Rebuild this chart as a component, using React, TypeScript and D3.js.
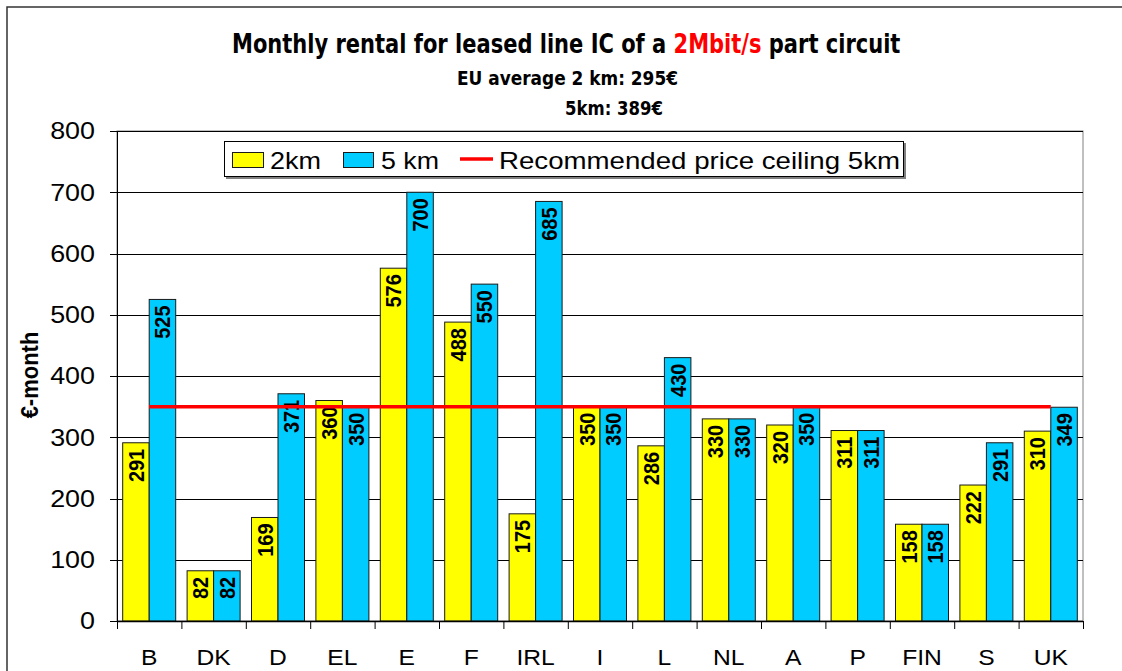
import React, { useLayoutEffect, useRef, useState } from 'react';
import * as d3 from 'd3';

const categories = ['B', 'DK', 'D', 'EL', 'E', 'F', 'IRL', 'I', 'L', 'NL', 'A', 'P', 'FIN', 'S', 'UK'];
const values2km = [291, 82, 169, 360, 576, 488, 175, 350, 286, 330, 320, 311, 158, 222, 310];
const values5km = [525, 82, 371, 350, 700, 550, 685, 350, 430, 330, 350, 311, 158, 291, 349];
const ceiling5km = [350, 350, 350, 350, 350, 350, 350, 350, 350, 350, 350, 350, 350, 350, 350];
const yTicks = [0, 100, 200, 300, 400, 500, 600, 700, 800];
const seriesNames = ['2km', '5 km', 'Recommended price ceiling 5km'];
const seriesKeys = ['s2', 's5'];

const W = 1122;
const H = 671;
const M = { left: 117, right: 1083, top: 131, bottom: 621 };
const SANS = '"Liberation Sans", Arial, sans-serif';
const NARROW = '"Liberation Sans Narrow", "Arial Narrow", "DejaVu Sans Condensed", "Liberation Sans", sans-serif';
const SX = 1.12;

export default function App() {
  const titleRef = useRef<SVGTextElement>(null);
  const [titleScale, setTitleScale] = useState(1);
  useLayoutEffect(() => {
    if (titleRef.current) {
      const w = titleRef.current.getBBox().width;
      if (w > 0) setTitleScale(669 / w);
    }
  }, []);

  const x = d3.scaleBand<string>().domain(categories).range([M.left, M.right]).paddingInner(0).paddingOuter(0);
  const xi = d3.scaleBand<string>().domain(seriesKeys).range([0, x.bandwidth()]).paddingInner(0).paddingOuter(0.215);
  const y = d3.scaleLinear().domain([0, 800]).range([M.bottom, M.top]);
  const colors: Record<string, string> = { s2: '#FFFF00', s5: '#00CCFF' };
  const data = categories.map((c, i) => ({ c, s2: values2km[i], s5: values5km[i] }));
  const line = d3
    .line<number>()
    .x((_, i) => (x(categories[i]) as number) + x.bandwidth() / 2)
    .y((v) => y(v));
  const boundaries = categories.map((c) => x(c) as number).concat([M.right]);

  return (
    <svg width={W} height={H} style={{ position: 'absolute', left: 0, top: 0, display: 'block' }} fontFamily={SANS}>
      <rect x={0} y={0} width={W} height={H} fill="#fff" />
      <rect x={7} y={7} width={W + 20} height={H + 20} fill="none" stroke="#333" strokeWidth={1.5} />

      {/* Title */}
      <g transform={`translate(232,53) scale(${titleScale},1)`}>
        <text ref={titleRef} x={0} y={0} fontFamily={NARROW} fontWeight="bold" fontSize={27}>
          Monthly rental for leased line IC of a <tspan fill="#FF0000">2Mbit/s</tspan> part circuit
        </text>
      </g>
      <text x={457} y={85} fontFamily={NARROW} fontWeight="bold" fontSize={19} textLength={221} lengthAdjust="spacingAndGlyphs">
        EU average 2 km: 295€
      </text>
      <text x={565} y={115} fontFamily={NARROW} fontWeight="bold" fontSize={19} textLength={98} lengthAdjust="spacingAndGlyphs">
        5km: 389€
      </text>

      {/* plot area border */}
      <rect x={M.left} y={M.top} width={M.right - M.left} height={M.bottom - M.top} fill="none" stroke="#808080" strokeWidth={1} />

      {/* gridlines */}
      {yTicks.map((t) => (
        <line key={'g' + t} x1={M.left - 7} x2={M.right} y1={Math.round(y(t)) + 0.5} y2={Math.round(y(t)) + 0.5} stroke="#000" strokeWidth={1} />
      ))}
      {yTicks.map((t) => (
        <g key={'yt' + t} transform={`translate(95,${y(t)}) scale(${SX},1)`}>
          <text x={0} y={0} textAnchor="end" dominantBaseline="central" fontSize={24} fill="#000">
            {t}
          </text>
        </g>
      ))}

      {/* bars */}
      {data.map((d) =>
        seriesKeys.map((k) => {
          const v = (d as any)[k] as number;
          const bx = (x(d.c) as number) + (xi(k) as number);
          return (
            <rect key={d.c + k} x={bx} y={y(v)} width={xi.bandwidth()} height={M.bottom - y(v)} fill={colors[k]} stroke="#1a1a1a" strokeWidth={1} />
          );
        })
      )}
      {data.map((d) =>
        seriesKeys.map((k) => {
          const v = (d as any)[k] as number;
          const cx = (x(d.c) as number) + (xi(k) as number) + xi.bandwidth() / 2;
          return (
            <g key={'l' + d.c + k} transform={`translate(${cx},${y(v) + 6}) scale(${SX},1) rotate(-90)`}>
              <text x={0} y={0} textAnchor="end" dominantBaseline="central" fontSize={20} fontWeight="bold" fill="#000">
                {v}
              </text>
            </g>
          );
        })
      )}

      {/* axes */}
      <line x1={M.left + 0.5} x2={M.left + 0.5} y1={M.top} y2={M.bottom} stroke="#000" strokeWidth={1} />
      <line x1={M.left} x2={M.right} y1={M.bottom + 0.5} y2={M.bottom + 0.5} stroke="#000" strokeWidth={1.5} />
      {boundaries.map((bx, i) => (
        <line key={'xt' + i} x1={bx + 0.5} x2={bx + 0.5} y1={M.bottom} y2={M.bottom + 8} stroke="#000" strokeWidth={1} />
      ))}
      {categories.map((c) => (
        <g key={'xl' + c} transform={`translate(${(x(c) as number) + x.bandwidth() / 2},657) scale(${SX},1)`}>
          <text x={0} y={0} textAnchor="middle" dominantBaseline="central" fontSize={22} fill="#000">
            {c}
          </text>
        </g>
      ))}

      {/* ceiling line */}
      <path d={line(ceiling5km) || ''} fill="none" stroke="#FF0000" strokeWidth={3.5} />

      {/* y axis title */}
      <g transform={`translate(30,375) scale(${SX},1) rotate(-90)`}>
        <text x={0} y={0} textAnchor="middle" dominantBaseline="central" fontSize={22} fontWeight="bold">
          €-month
        </text>
      </g>

      {/* legend */}
      <rect x={226} y={143} width={680} height={36} fill="#808080" />
      <rect x={224.5} y={141.5} width={679} height={35} fill="#fff" stroke="#000" strokeWidth={1} />
      <rect x={232.5} y={152.5} width={31} height={15} fill={colors.s2} stroke="#1a1a1a" strokeWidth={1} />
      <text x={270} y={160} dominantBaseline="central" fontSize={24} textLength={51} lengthAdjust="spacingAndGlyphs">
        {seriesNames[0]}
      </text>
      <rect x={343.5} y={152.5} width={30} height={15} fill={colors.s5} stroke="#1a1a1a" strokeWidth={1} />
      <text x={381} y={160} dominantBaseline="central" fontSize={24} textLength={58} lengthAdjust="spacingAndGlyphs">
        {seriesNames[1]}
      </text>
      <line x1={460} x2={493} y1={159} y2={159} stroke="#FF0000" strokeWidth={3.5} />
      <text x={499} y={160} dominantBaseline="central" fontSize={24} textLength={401} lengthAdjust="spacingAndGlyphs">
        {seriesNames[2]}
      </text>
    </svg>
  );
}
